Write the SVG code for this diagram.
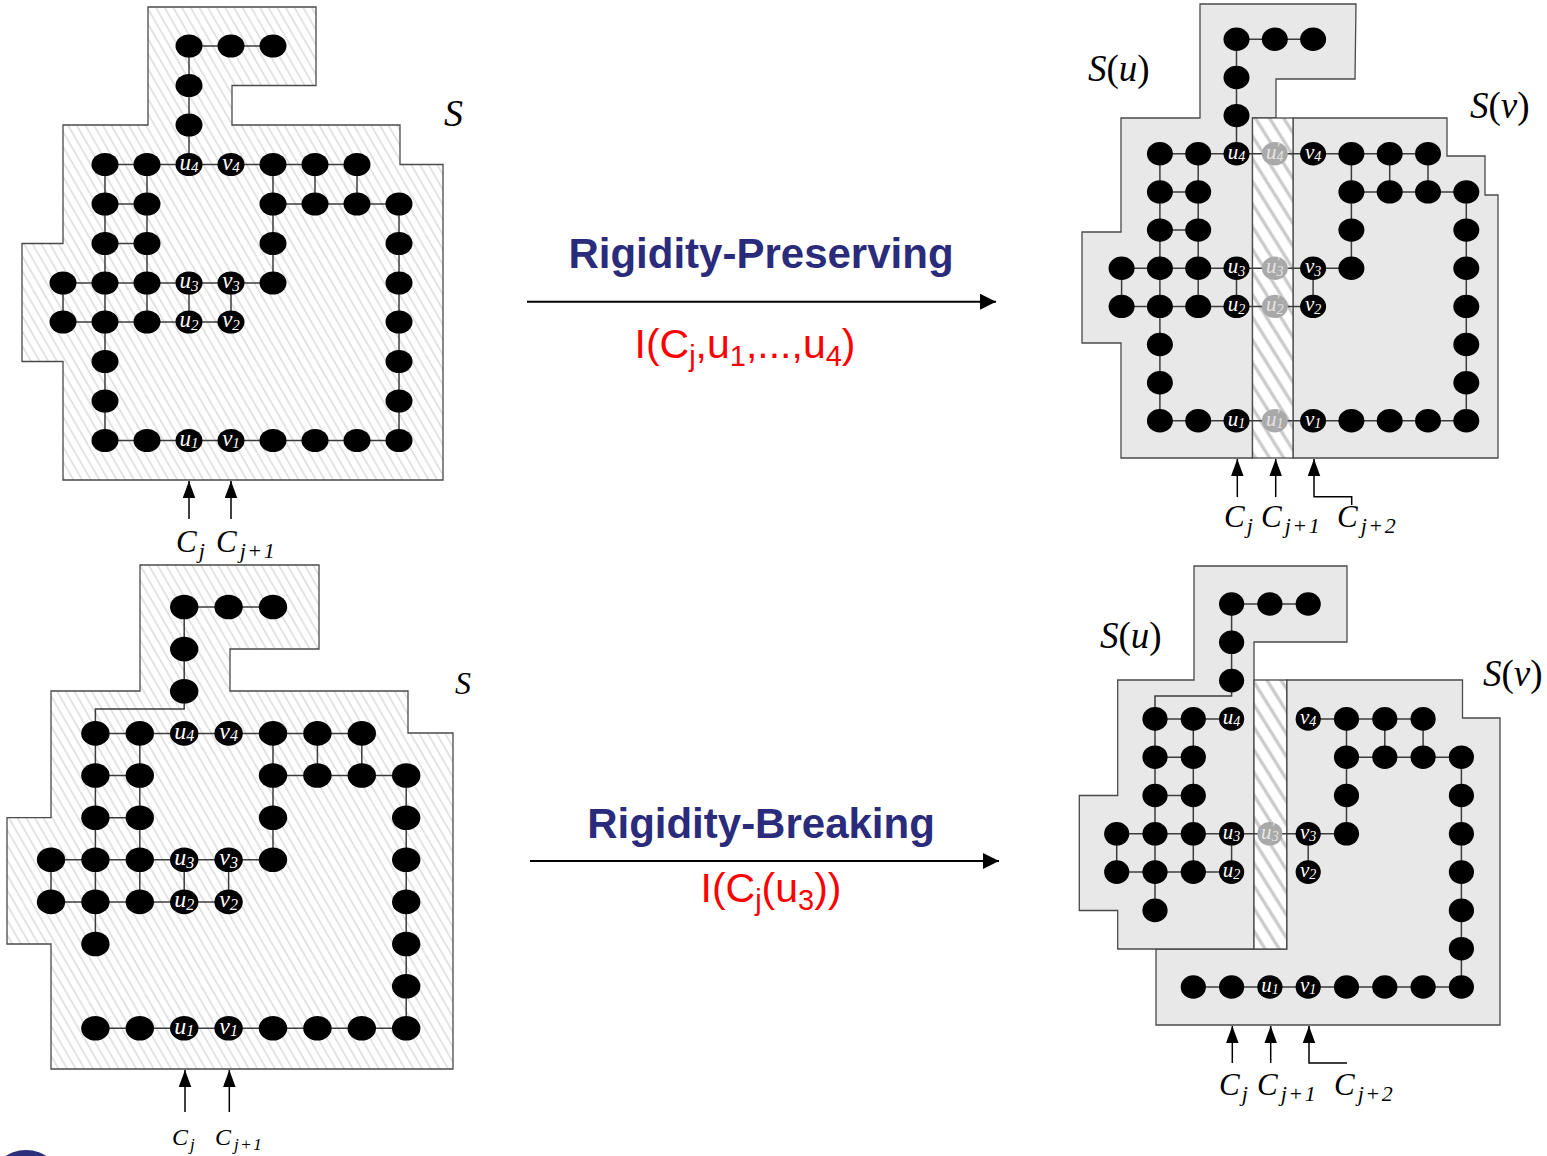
<svg xmlns="http://www.w3.org/2000/svg" xmlns:xlink="http://www.w3.org/1999/xlink" width="1547" height="1156" viewBox="0 0 1547 1156">
<style>
.ol{stroke:#4a4a4a;stroke-width:1.3}
.rg{fill:#e8e8e8}
.e{stroke:#3c3c3c;stroke-width:1.5;fill:none}
.ar{stroke:#000;stroke-width:1.5;fill:none}
.big{stroke:#000;stroke-width:2;fill:none}
.d{fill:#000}
.gr{fill:#a9a9a9}
.lb{font-family:"Liberation Serif",serif;font-style:italic;fill:#fff;text-anchor:middle}
.lg{font-family:"Liberation Serif",serif;font-style:italic;fill:#e4e4e4;text-anchor:middle}
#p1-nodes text{font-size:23px}#p1-nodes tspan{font-size:15px}
#p3-nodes text{font-size:24px}#p3-nodes tspan{font-size:16px}
#p2-nodes text,#p4-nodes text{font-size:21px}#p2-nodes tspan,#p4-nodes tspan{font-size:14px}
.ct{font-family:"Liberation Serif",serif;font-style:italic;fill:#000}
.sl{font-family:"Liberation Serif",serif;fill:#000}
.ttl{font-family:"Liberation Sans",Arial,sans-serif;font-weight:bold;font-size:42px;fill:#2b2b7b;text-anchor:middle}
.red{font-family:"Liberation Sans",Arial,sans-serif;font-size:41px;fill:#ff0000;text-anchor:middle}
</style>
<defs>
<pattern id="h1" width="7.5" height="7.5" patternUnits="userSpaceOnUse" patternTransform="rotate(-30)"><rect width="7.5" height="7.5" fill="#fff"/><line x1="3.75" y1="0" x2="3.75" y2="7.5" stroke="#cfcfcf" stroke-width="1.1"/></pattern>
<pattern id="h2" width="12" height="12" patternUnits="userSpaceOnUse" patternTransform="rotate(-32)"><rect width="12" height="12" fill="#fff"/><line x1="6" y1="0" x2="6" y2="12" stroke="#c9c9c9" stroke-width="3.2"/></pattern>
<ellipse id="d1" rx="13.5" ry="11.5"/>
<ellipse id="d2" rx="13" ry="11.7"/>
<ellipse id="d3" rx="14.2" ry="12.3"/>
<ellipse id="d4" rx="12.6" ry="11.8"/>
<marker id="sa" markerUnits="userSpaceOnUse" markerWidth="18" markerHeight="13" refX="17" refY="6.25" orient="auto"><path d="M0,0 L17,6.25 L0,12.5 Z" fill="#000"/></marker>
<marker id="ba" markerUnits="userSpaceOnUse" markerWidth="17" markerHeight="17" refX="16" refY="8" orient="auto"><path d="M0,0 L16,8 L0,16 Z" fill="#000"/></marker>
</defs>
<rect width="1547" height="1156" fill="#fff"/>

<g id="regions">
<path id="p1-S" class="ol" fill="url(#h1)" d="M148,7 H316 V85.5 H232 V125 H400 V164.5 H443 V480 H63 V361.5 H22 V243.5 H63 V125 H148 Z"/>
<path id="p3-S" class="ol" fill="url(#h1)" d="M140,565 H319 V649 H230 V691 H408 V733 H453 V1069 H51 V944 H7 V817.7 H51 V691 H140 Z"/>
<path id="p2-Su" class="ol rg" d="M1200,4 H1356 L1355,79 H1276 V118 H1252.5 V458 H1121 V343 H1082 V232 H1121 V118 H1200 Z"/>
<path id="p2-Sv" class="ol rg" d="M1293,118 H1447 V156 H1485 V195 H1498 V458 H1293 Z"/>
<rect id="p2-strip" class="ol" fill="url(#h2)" x="1252.5" y="118" width="40.5" height="340"/>
<path id="p4-Sv" class="ol rg" d="M1286.7,680 H1462.5 V718 H1500 V1025 H1156 V949 H1286.7 Z"/>
<path id="p4-Su" class="ol rg" d="M1194,566 H1347 V642 H1254 V949 H1117.7 V910.5 H1079.3 V795.5 H1117.7 V680 H1194 Z"/>
<rect id="p4-strip" class="ol" fill="url(#h2)" x="1254" y="680" width="32.7" height="269"/>
</g>

<g id="connectors">
<g id="p1-edges" class="e">
<path d="M189,46 H273"/><path d="M105,164.5 H357"/><path d="M105,204 H147"/><path d="M273,204 H399"/><path d="M105,243.5 H147"/><path d="M63,283 H273"/><path d="M63,322 H231"/><path d="M105,440.5 H399"/>
<path d="M63,283 V322"/><path d="M105,164.5 V440.5"/><path d="M147,164.5 V322"/><path d="M189,46 V164.5"/><path d="M189,283 V322"/><path d="M231,283 V322"/><path d="M273,164.5 V283"/><path d="M315,164.5 V204"/><path d="M357,164.5 V204"/><path d="M399,204 V440.5"/>
</g>
<g id="p3-edges" class="e">
<path d="M184.2,607 H273"/><path d="M95.4,733.4 H361.8"/><path d="M95.4,775.5 H139.8"/><path d="M273,775.5 H406.2"/><path d="M95.4,817.7 H139.8"/><path d="M51,859.8 H273"/><path d="M51,901.9 H228.6"/><path d="M95.4,1028.3 H406.2"/>
<path d="M51,859.8 V901.9"/><path d="M95.4,733.4 V944"/><path d="M139.8,733.4 V901.9"/><path d="M184.2,607 V691.3"/><path d="M184.2,859.8 V901.9"/><path d="M228.6,859.8 V901.9"/><path d="M273,733.4 V859.8"/><path d="M317.4,733.4 V775.5"/><path d="M361.8,733.4 V775.5"/><path d="M406.2,775.5 V1028.3"/>
<path d="M184.2,691.3 V709 H95.4 V733.4"/>
</g>
<g id="p2-edges" class="e">
<path d="M1236.5,39.3 H1313.1"/><path d="M1159.9,153.8 H1428"/><path d="M1159.9,191.9 H1198.2"/><path d="M1351.4,191.9 H1466.3"/><path d="M1159.9,230.1 H1198.2"/><path d="M1121.6,268.2 H1351.4"/><path d="M1121.6,306.4 H1313.1"/><path d="M1159.9,420.8 H1466.3"/>
<path d="M1121.6,268.2 V306.4"/><path d="M1159.9,153.8 V420.8"/><path d="M1198.2,153.8 V306.4"/><path d="M1236.5,39.3 V153.8"/><path d="M1236.5,268.2 V306.4"/><path d="M1313.1,268.2 V306.4"/><path d="M1351.4,153.8 V268.2"/><path d="M1389.7,153.8 V191.9"/><path d="M1428,153.8 V191.9"/><path d="M1466.3,191.9 V420.8"/>
</g>
<g id="p4-edges" class="e">
<path d="M1231.6,604 H1308.2"/><path d="M1155,718.9 H1231.6"/><path d="M1308.2,718.9 H1423.1"/><path d="M1155,757.2 H1193.3"/><path d="M1346.5,757.2 H1461.4"/><path d="M1155,795.5 H1193.3"/><path d="M1116.7,833.8 H1346.5"/><path d="M1116.7,872.1 H1231.6"/><path d="M1193.3,987 H1461.4"/>
<path d="M1116.7,833.8 V872.1"/><path d="M1155,718.9 V910.4"/><path d="M1193.3,718.9 V872.1"/><path d="M1231.6,604 V680.6"/><path d="M1231.6,833.8 V872.1"/><path d="M1308.2,833.8 V872.1"/><path d="M1346.5,718.9 V833.8"/><path d="M1384.8,718.9 V757.2"/><path d="M1423.1,718.9 V757.2"/><path d="M1461.4,757.2 V987"/>
<path d="M1231.6,680.6 V696 H1155 V718.9"/>
</g>
<g id="col-arrows" class="ar">
<path d="M189,519 V481" marker-end="url(#sa)"/><path d="M231,519 V481" marker-end="url(#sa)"/>
<path d="M185,1112 V1070" marker-end="url(#sa)"/><path d="M229.3,1112 V1070" marker-end="url(#sa)"/>
<path d="M1237.3,497 V459" marker-end="url(#sa)"/><path d="M1275.7,497 V459" marker-end="url(#sa)"/><path d="M1351.7,505 V496.7 H1314 V459" marker-end="url(#sa)"/>
<path d="M1232.3,1063 V1026" marker-end="url(#sa)"/><path d="M1270.7,1063 V1026" marker-end="url(#sa)"/><path d="M1347,1063 H1309 V1026" marker-end="url(#sa)"/>
</g>
<g id="big-arrows" class="big">
<path d="M527,301.7 H996" marker-end="url(#ba)"/>
<path d="M530,861 H999" marker-end="url(#ba)"/>
</g>
</g>

<g id="p1-nodes" class="d">
<g id="p1-r0c3"><use href="#d1" x="189" y="46"/></g><g id="p1-r0c4"><use href="#d1" x="231" y="46"/></g><g id="p1-r0c5"><use href="#d1" x="273" y="46"/></g>
<g id="p1-r1c3"><use href="#d1" x="189" y="85.5"/></g><g id="p1-r2c3"><use href="#d1" x="189" y="125"/></g>
<g id="p1-r3c1"><use href="#d1" x="105" y="164.5"/></g><g id="p1-r3c2"><use href="#d1" x="147" y="164.5"/></g>
<g id="p1-u4"><use href="#d1" x="189" y="164.5"/><text class="lb" x="189" y="169.8">u<tspan dy="2.5">4</tspan></text></g>
<g id="p1-v4"><use href="#d1" x="231" y="164.5"/><text class="lb" x="231" y="169.8">v<tspan dy="2.5">4</tspan></text></g>
<g id="p1-r3c5"><use href="#d1" x="273" y="164.5"/></g><g id="p1-r3c6"><use href="#d1" x="315" y="164.5"/></g><g id="p1-r3c7"><use href="#d1" x="357" y="164.5"/></g>
<g id="p1-r4c1"><use href="#d1" x="105" y="204"/></g><g id="p1-r4c2"><use href="#d1" x="147" y="204"/></g><g id="p1-r4c5"><use href="#d1" x="273" y="204"/></g><g id="p1-r4c6"><use href="#d1" x="315" y="204"/></g><g id="p1-r4c7"><use href="#d1" x="357" y="204"/></g><g id="p1-r4c8"><use href="#d1" x="399" y="204"/></g>
<g id="p1-r5c1"><use href="#d1" x="105" y="243.5"/></g><g id="p1-r5c2"><use href="#d1" x="147" y="243.5"/></g><g id="p1-r5c5"><use href="#d1" x="273" y="243.5"/></g><g id="p1-r5c8"><use href="#d1" x="399" y="243.5"/></g>
<g id="p1-r6c0"><use href="#d1" x="63" y="283"/></g><g id="p1-r6c1"><use href="#d1" x="105" y="283"/></g><g id="p1-r6c2"><use href="#d1" x="147" y="283"/></g>
<g id="p1-u3"><use href="#d1" x="189" y="283"/><text class="lb" x="189" y="288.3">u<tspan dy="2.5">3</tspan></text></g>
<g id="p1-v3"><use href="#d1" x="231" y="283"/><text class="lb" x="231" y="288.3">v<tspan dy="2.5">3</tspan></text></g>
<g id="p1-r6c5"><use href="#d1" x="273" y="283"/></g><g id="p1-r6c8"><use href="#d1" x="399" y="283"/></g>
<g id="p1-r7c0"><use href="#d1" x="63" y="322"/></g><g id="p1-r7c1"><use href="#d1" x="105" y="322"/></g><g id="p1-r7c2"><use href="#d1" x="147" y="322"/></g>
<g id="p1-u2"><use href="#d1" x="189" y="322"/><text class="lb" x="189" y="327.3">u<tspan dy="2.5">2</tspan></text></g>
<g id="p1-v2"><use href="#d1" x="231" y="322"/><text class="lb" x="231" y="327.3">v<tspan dy="2.5">2</tspan></text></g>
<g id="p1-r7c8"><use href="#d1" x="399" y="322"/></g>
<g id="p1-r8c1"><use href="#d1" x="105" y="361.5"/></g><g id="p1-r8c8"><use href="#d1" x="399" y="361.5"/></g>
<g id="p1-r9c1"><use href="#d1" x="105" y="401"/></g><g id="p1-r9c8"><use href="#d1" x="399" y="401"/></g>
<g id="p1-r10c1"><use href="#d1" x="105" y="440.5"/></g><g id="p1-r10c2"><use href="#d1" x="147" y="440.5"/></g>
<g id="p1-u1"><use href="#d1" x="189" y="440.5"/><text class="lb" x="189" y="445.8">u<tspan dy="2.5">1</tspan></text></g>
<g id="p1-v1"><use href="#d1" x="231" y="440.5"/><text class="lb" x="231" y="445.8">v<tspan dy="2.5">1</tspan></text></g>
<g id="p1-r10c5"><use href="#d1" x="273" y="440.5"/></g><g id="p1-r10c6"><use href="#d1" x="315" y="440.5"/></g><g id="p1-r10c7"><use href="#d1" x="357" y="440.5"/></g><g id="p1-r10c8"><use href="#d1" x="399" y="440.5"/></g>
</g>

<g id="p3-nodes" class="d">
<g id="p3-r0c3"><use href="#d3" x="184.2" y="607"/></g><g id="p3-r0c4"><use href="#d3" x="228.6" y="607"/></g><g id="p3-r0c5"><use href="#d3" x="273" y="607"/></g>
<g id="p3-r1c3"><use href="#d3" x="184.2" y="649.1"/></g><g id="p3-r2c3"><use href="#d3" x="184.2" y="691.3"/></g>
<g id="p3-r3c1"><use href="#d3" x="95.4" y="733.4"/></g><g id="p3-r3c2"><use href="#d3" x="139.8" y="733.4"/></g>
<g id="p3-u4"><use href="#d3" x="184.2" y="733.4"/><text class="lb" x="184.2" y="738.9">u<tspan dy="2.5">4</tspan></text></g>
<g id="p3-v4"><use href="#d3" x="228.6" y="733.4"/><text class="lb" x="228.6" y="738.9">v<tspan dy="2.5">4</tspan></text></g>
<g id="p3-r3c5"><use href="#d3" x="273" y="733.4"/></g><g id="p3-r3c6"><use href="#d3" x="317.4" y="733.4"/></g><g id="p3-r3c7"><use href="#d3" x="361.8" y="733.4"/></g>
<g id="p3-r4c1"><use href="#d3" x="95.4" y="775.5"/></g><g id="p3-r4c2"><use href="#d3" x="139.8" y="775.5"/></g><g id="p3-r4c5"><use href="#d3" x="273" y="775.5"/></g><g id="p3-r4c6"><use href="#d3" x="317.4" y="775.5"/></g><g id="p3-r4c7"><use href="#d3" x="361.8" y="775.5"/></g><g id="p3-r4c8"><use href="#d3" x="406.2" y="775.5"/></g>
<g id="p3-r5c1"><use href="#d3" x="95.4" y="817.7"/></g><g id="p3-r5c2"><use href="#d3" x="139.8" y="817.7"/></g><g id="p3-r5c5"><use href="#d3" x="273" y="817.7"/></g><g id="p3-r5c8"><use href="#d3" x="406.2" y="817.7"/></g>
<g id="p3-r6c0"><use href="#d3" x="51" y="859.8"/></g><g id="p3-r6c1"><use href="#d3" x="95.4" y="859.8"/></g><g id="p3-r6c2"><use href="#d3" x="139.8" y="859.8"/></g>
<g id="p3-u3"><use href="#d3" x="184.2" y="859.8"/><text class="lb" x="184.2" y="865.3">u<tspan dy="2.5">3</tspan></text></g>
<g id="p3-v3"><use href="#d3" x="228.6" y="859.8"/><text class="lb" x="228.6" y="865.3">v<tspan dy="2.5">3</tspan></text></g>
<g id="p3-r6c5"><use href="#d3" x="273" y="859.8"/></g><g id="p3-r6c8"><use href="#d3" x="406.2" y="859.8"/></g>
<g id="p3-r7c0"><use href="#d3" x="51" y="901.9"/></g><g id="p3-r7c1"><use href="#d3" x="95.4" y="901.9"/></g><g id="p3-r7c2"><use href="#d3" x="139.8" y="901.9"/></g>
<g id="p3-u2"><use href="#d3" x="184.2" y="901.9"/><text class="lb" x="184.2" y="907.4">u<tspan dy="2.5">2</tspan></text></g>
<g id="p3-v2"><use href="#d3" x="228.6" y="901.9"/><text class="lb" x="228.6" y="907.4">v<tspan dy="2.5">2</tspan></text></g>
<g id="p3-r7c8"><use href="#d3" x="406.2" y="901.9"/></g>
<g id="p3-r8c1"><use href="#d3" x="95.4" y="944"/></g><g id="p3-r8c8"><use href="#d3" x="406.2" y="944"/></g>
<g id="p3-r9c8"><use href="#d3" x="406.2" y="986.2"/></g>
<g id="p3-r10c1"><use href="#d3" x="95.4" y="1028.3"/></g><g id="p3-r10c2"><use href="#d3" x="139.8" y="1028.3"/></g>
<g id="p3-u1"><use href="#d3" x="184.2" y="1028.3"/><text class="lb" x="184.2" y="1033.8">u<tspan dy="2.5">1</tspan></text></g>
<g id="p3-v1"><use href="#d3" x="228.6" y="1028.3"/><text class="lb" x="228.6" y="1033.8">v<tspan dy="2.5">1</tspan></text></g>
<g id="p3-r10c5"><use href="#d3" x="273" y="1028.3"/></g><g id="p3-r10c6"><use href="#d3" x="317.4" y="1028.3"/></g><g id="p3-r10c7"><use href="#d3" x="361.8" y="1028.3"/></g><g id="p3-r10c8"><use href="#d3" x="406.2" y="1028.3"/></g>
</g>

<g id="p2-nodes" class="d">
<g id="p2-r0i3"><use href="#d2" x="1236.5" y="39.3"/></g><g id="p2-r0i4"><use href="#d2" x="1274.8" y="39.3"/></g><g id="p2-r0i5"><use href="#d2" x="1313.1" y="39.3"/></g>
<g id="p2-r1i3"><use href="#d2" x="1236.5" y="77.5"/></g><g id="p2-r2i3"><use href="#d2" x="1236.5" y="115.6"/></g>
<g id="p2-r3i1"><use href="#d2" x="1159.9" y="153.8"/></g><g id="p2-r3i2"><use href="#d2" x="1198.2" y="153.8"/></g>
<g id="p2-u4"><use href="#d2" x="1236.5" y="153.8"/><text class="lb" x="1236.5" y="158.6">u<tspan dy="2.5">4</tspan></text></g>
<g id="p2-u4p"><use href="#d2" class="gr" x="1274.8" y="153.8"/><text class="lg" x="1274.8" y="158.6">u<tspan dy="-6">′</tspan><tspan dx="-3" dy="8.5">4</tspan></text></g>
<g id="p2-v4"><use href="#d2" x="1313.1" y="153.8"/><text class="lb" x="1313.1" y="158.6">v<tspan dy="2.5">4</tspan></text></g>
<g id="p2-r3i6"><use href="#d2" x="1351.4" y="153.8"/></g><g id="p2-r3i7"><use href="#d2" x="1389.7" y="153.8"/></g><g id="p2-r3i8"><use href="#d2" x="1428" y="153.8"/></g>
<g id="p2-r4i1"><use href="#d2" x="1159.9" y="191.9"/></g><g id="p2-r4i2"><use href="#d2" x="1198.2" y="191.9"/></g><g id="p2-r4i6"><use href="#d2" x="1351.4" y="191.9"/></g><g id="p2-r4i7"><use href="#d2" x="1389.7" y="191.9"/></g><g id="p2-r4i8"><use href="#d2" x="1428" y="191.9"/></g><g id="p2-r4i9"><use href="#d2" x="1466.3" y="191.9"/></g>
<g id="p2-r5i1"><use href="#d2" x="1159.9" y="230.1"/></g><g id="p2-r5i2"><use href="#d2" x="1198.2" y="230.1"/></g><g id="p2-r5i6"><use href="#d2" x="1351.4" y="230.1"/></g><g id="p2-r5i9"><use href="#d2" x="1466.3" y="230.1"/></g>
<g id="p2-r6i0"><use href="#d2" x="1121.6" y="268.2"/></g><g id="p2-r6i1"><use href="#d2" x="1159.9" y="268.2"/></g><g id="p2-r6i2"><use href="#d2" x="1198.2" y="268.2"/></g>
<g id="p2-u3"><use href="#d2" x="1236.5" y="268.2"/><text class="lb" x="1236.5" y="273">u<tspan dy="2.5">3</tspan></text></g>
<g id="p2-u3p"><use href="#d2" class="gr" x="1274.8" y="268.2"/><text class="lg" x="1274.8" y="273">u<tspan dy="-6">′</tspan><tspan dx="-3" dy="8.5">3</tspan></text></g>
<g id="p2-v3"><use href="#d2" x="1313.1" y="268.2"/><text class="lb" x="1313.1" y="273">v<tspan dy="2.5">3</tspan></text></g>
<g id="p2-r6i6"><use href="#d2" x="1351.4" y="268.2"/></g><g id="p2-r6i9"><use href="#d2" x="1466.3" y="268.2"/></g>
<g id="p2-r7i0"><use href="#d2" x="1121.6" y="306.4"/></g><g id="p2-r7i1"><use href="#d2" x="1159.9" y="306.4"/></g><g id="p2-r7i2"><use href="#d2" x="1198.2" y="306.4"/></g>
<g id="p2-u2"><use href="#d2" x="1236.5" y="306.4"/><text class="lb" x="1236.5" y="311.2">u<tspan dy="2.5">2</tspan></text></g>
<g id="p2-u2p"><use href="#d2" class="gr" x="1274.8" y="306.4"/><text class="lg" x="1274.8" y="311.2">u<tspan dy="-6">′</tspan><tspan dx="-3" dy="8.5">2</tspan></text></g>
<g id="p2-v2"><use href="#d2" x="1313.1" y="306.4"/><text class="lb" x="1313.1" y="311.2">v<tspan dy="2.5">2</tspan></text></g>
<g id="p2-r7i9"><use href="#d2" x="1466.3" y="306.4"/></g>
<g id="p2-r8i1"><use href="#d2" x="1159.9" y="344.5"/></g><g id="p2-r8i9"><use href="#d2" x="1466.3" y="344.5"/></g>
<g id="p2-r9i1"><use href="#d2" x="1159.9" y="382.7"/></g><g id="p2-r9i9"><use href="#d2" x="1466.3" y="382.7"/></g>
<g id="p2-r10i1"><use href="#d2" x="1159.9" y="420.8"/></g><g id="p2-r10i2"><use href="#d2" x="1198.2" y="420.8"/></g>
<g id="p2-u1"><use href="#d2" x="1236.5" y="420.8"/><text class="lb" x="1236.5" y="425.6">u<tspan dy="2.5">1</tspan></text></g>
<g id="p2-u1p"><use href="#d2" class="gr" x="1274.8" y="420.8"/><text class="lg" x="1274.8" y="425.6">u<tspan dy="-6">′</tspan><tspan dx="-3" dy="8.5">1</tspan></text></g>
<g id="p2-v1"><use href="#d2" x="1313.1" y="420.8"/><text class="lb" x="1313.1" y="425.6">v<tspan dy="2.5">1</tspan></text></g>
<g id="p2-r10i6"><use href="#d2" x="1351.4" y="420.8"/></g><g id="p2-r10i7"><use href="#d2" x="1389.7" y="420.8"/></g><g id="p2-r10i8"><use href="#d2" x="1428" y="420.8"/></g><g id="p2-r10i9"><use href="#d2" x="1466.3" y="420.8"/></g>
</g>

<g id="p4-nodes" class="d">
<g id="p4-r0i3"><use href="#d4" x="1231.6" y="604"/></g><g id="p4-r0i4"><use href="#d4" x="1269.9" y="604"/></g><g id="p4-r0i5"><use href="#d4" x="1308.2" y="604"/></g>
<g id="p4-r1i3"><use href="#d4" x="1231.6" y="642.3"/></g><g id="p4-r2i3"><use href="#d4" x="1231.6" y="680.6"/></g>
<g id="p4-r3i1"><use href="#d4" x="1155" y="718.9"/></g><g id="p4-r3i2"><use href="#d4" x="1193.3" y="718.9"/></g>
<g id="p4-u4"><use href="#d4" x="1231.6" y="718.9"/><text class="lb" x="1231.6" y="723.7">u<tspan dy="2.5">4</tspan></text></g>
<g id="p4-v4"><use href="#d4" x="1308.2" y="718.9"/><text class="lb" x="1308.2" y="723.7">v<tspan dy="2.5">4</tspan></text></g>
<g id="p4-r3i6"><use href="#d4" x="1346.5" y="718.9"/></g><g id="p4-r3i7"><use href="#d4" x="1384.8" y="718.9"/></g><g id="p4-r3i8"><use href="#d4" x="1423.1" y="718.9"/></g>
<g id="p4-r4i1"><use href="#d4" x="1155" y="757.2"/></g><g id="p4-r4i2"><use href="#d4" x="1193.3" y="757.2"/></g><g id="p4-r4i6"><use href="#d4" x="1346.5" y="757.2"/></g><g id="p4-r4i7"><use href="#d4" x="1384.8" y="757.2"/></g><g id="p4-r4i8"><use href="#d4" x="1423.1" y="757.2"/></g><g id="p4-r4i9"><use href="#d4" x="1461.4" y="757.2"/></g>
<g id="p4-r5i1"><use href="#d4" x="1155" y="795.5"/></g><g id="p4-r5i2"><use href="#d4" x="1193.3" y="795.5"/></g><g id="p4-r5i6"><use href="#d4" x="1346.5" y="795.5"/></g><g id="p4-r5i9"><use href="#d4" x="1461.4" y="795.5"/></g>
<g id="p4-r6i0"><use href="#d4" x="1116.7" y="833.8"/></g><g id="p4-r6i1"><use href="#d4" x="1155" y="833.8"/></g><g id="p4-r6i2"><use href="#d4" x="1193.3" y="833.8"/></g>
<g id="p4-u3"><use href="#d4" x="1231.6" y="833.8"/><text class="lb" x="1231.6" y="838.6">u<tspan dy="2.5">3</tspan></text></g>
<g id="p4-u3p"><use href="#d4" class="gr" x="1269.9" y="833.8"/><text class="lg" x="1269.9" y="838.6">u<tspan dy="-6">′</tspan><tspan dx="-3" dy="8.5">3</tspan></text></g>
<g id="p4-v3"><use href="#d4" x="1308.2" y="833.8"/><text class="lb" x="1308.2" y="838.6">v<tspan dy="2.5">3</tspan></text></g>
<g id="p4-r6i6"><use href="#d4" x="1346.5" y="833.8"/></g><g id="p4-r6i9"><use href="#d4" x="1461.4" y="833.8"/></g>
<g id="p4-r7i0"><use href="#d4" x="1116.7" y="872.1"/></g><g id="p4-r7i1"><use href="#d4" x="1155" y="872.1"/></g><g id="p4-r7i2"><use href="#d4" x="1193.3" y="872.1"/></g>
<g id="p4-u2"><use href="#d4" x="1231.6" y="872.1"/><text class="lb" x="1231.6" y="876.9">u<tspan dy="2.5">2</tspan></text></g>
<g id="p4-v2"><use href="#d4" x="1308.2" y="872.1"/><text class="lb" x="1308.2" y="876.9">v<tspan dy="2.5">2</tspan></text></g>
<g id="p4-r7i9"><use href="#d4" x="1461.4" y="872.1"/></g>
<g id="p4-r8i1"><use href="#d4" x="1155" y="910.4"/></g><g id="p4-r8i9"><use href="#d4" x="1461.4" y="910.4"/></g>
<g id="p4-r9i9"><use href="#d4" x="1461.4" y="948.7"/></g>
<g id="p4-r10i2"><use href="#d4" x="1193.3" y="987"/></g><g id="p4-r10i3"><use href="#d4" x="1231.6" y="987"/></g>
<g id="p4-u1"><use href="#d4" x="1269.9" y="987"/><text class="lb" x="1269.9" y="991.8">u<tspan dy="2.5">1</tspan></text></g>
<g id="p4-v1"><use href="#d4" x="1308.2" y="987"/><text class="lb" x="1308.2" y="991.8">v<tspan dy="2.5">1</tspan></text></g>
<g id="p4-r10i6"><use href="#d4" x="1346.5" y="987"/></g><g id="p4-r10i7"><use href="#d4" x="1384.8" y="987"/></g><g id="p4-r10i8"><use href="#d4" x="1423.1" y="987"/></g><g id="p4-r10i9"><use href="#d4" x="1461.4" y="987"/></g>
</g>

<g id="labels">
<text class="ct" x="444" y="126" font-size="38">S</text>
<text class="ct" x="455" y="694" font-size="32">S</text>
<text class="sl" x="1088" y="81" font-size="37"><tspan font-style="italic">S</tspan>(<tspan font-style="italic">u</tspan>)</text>
<text class="sl" x="1470" y="118" font-size="37"><tspan font-style="italic">S</tspan>(<tspan font-style="italic">v</tspan>)</text>
<text class="sl" x="1100" y="648" font-size="37"><tspan font-style="italic">S</tspan>(<tspan font-style="italic">u</tspan>)</text>
<text class="sl" x="1483" y="686" font-size="37"><tspan font-style="italic">S</tspan>(<tspan font-style="italic">v</tspan>)</text>

<text class="ct" x="176" y="552" font-size="31">C<tspan font-size="22" dx="2" dy="6">j</tspan></text>
<text class="ct" x="216" y="552" font-size="31">C<tspan font-size="22" dx="3" dy="6" letter-spacing="1.5">j+1</tspan></text>

<text class="ct" x="172" y="1145" font-size="24">C<tspan font-size="17" dx="2" dy="5">j</tspan></text>
<text class="ct" x="215" y="1145" font-size="24">C<tspan font-size="17" dx="3" dy="5" letter-spacing="1.5">j+1</tspan></text>

<text class="ct" x="1224" y="527" font-size="31">C<tspan font-size="22" dx="2" dy="6">j</tspan></text>
<text class="ct" x="1261" y="527" font-size="31">C<tspan font-size="22" dx="3" dy="6" letter-spacing="1.5">j+1</tspan></text>
<text class="ct" x="1337" y="527" font-size="31">C<tspan font-size="22" dx="3" dy="6" letter-spacing="1.5">j+2</tspan></text>

<text class="ct" x="1219" y="1095" font-size="31">C<tspan font-size="22" dx="2" dy="6">j</tspan></text>
<text class="ct" x="1257" y="1095" font-size="31">C<tspan font-size="22" dx="3" dy="6" letter-spacing="1.5">j+1</tspan></text>
<text class="ct" x="1334" y="1095" font-size="31">C<tspan font-size="22" dx="3" dy="6" letter-spacing="1.5">j+2</tspan></text>

<text class="ttl" x="761" y="268">Rigidity-Preserving</text>
<text class="red" x="745" y="358">I(C<tspan font-size="29" dy="8">j</tspan><tspan dy="-8">,u</tspan><tspan font-size="29" dy="8">1</tspan><tspan dy="-8">,...,u</tspan><tspan font-size="29" dy="8">4</tspan><tspan dy="-8">)</tspan></text>
<text class="ttl" x="761" y="838">Rigidity-Breaking</text>
<text class="red" x="771" y="902">I(C<tspan font-size="29" dy="8">j</tspan><tspan dy="-8">(u</tspan><tspan font-size="29" dy="8">3</tspan><tspan dy="-8">))</tspan></text>
</g>

<ellipse id="corner-mark" cx="26" cy="1180" rx="34" ry="30" fill="#2b2f7c"/>
</svg>
